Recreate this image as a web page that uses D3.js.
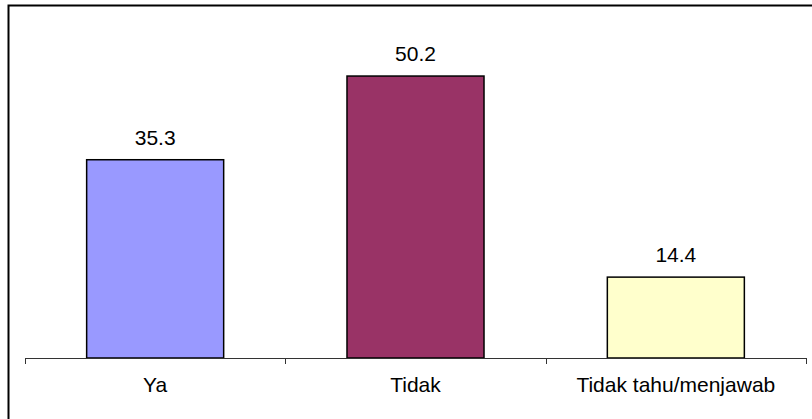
<!DOCTYPE html>
<html><head><meta charset="utf-8">
<script src="https://cdn.jsdelivr.net/npm/d3@7"></script>
<style>body{margin:0;background:#fff}svg{display:block}</style>
</head><body>
<svg id="c" width="812" height="419"></svg>
<script>
const categories = ["Ya", "Tidak", "Tidak tahu/menjawab"];
const values = [35.3, 50.2, 14.4];
const valueLabels = ["35.3", "50.2", "14.4"];
const colors = ["#9999ff", "#993366", "#ffffcc"];

const svg = d3.select("#c");
const font = "'Liberation Sans', Arial, sans-serif";
// outer border (right/bottom edges lie outside the picture)
svg.append("rect").attr("x", 8.5).attr("y", 5.5).attr("width", 900).attr("height", 500)
  .attr("fill", "none").attr("stroke", "#000").attr("stroke-width", 2);

const x = d3.scaleBand().domain(categories).range([25, 806]).paddingInner(0.4737).paddingOuter(0.2368);
const xb = d3.scaleBand().domain(categories).range([25, 806]);
const y = d3.scaleLinear().domain([0, 60]).range([358, 21]);

svg.selectAll("rect.bar").data(categories).join("rect").attr("class", "bar")
  .attr("x", d => x(d)).attr("width", x.bandwidth())
  .attr("y", (d, i) => y(values[i])).attr("height", (d, i) => y(0) - y(values[i]))
  .attr("fill", (d, i) => colors[i]).attr("stroke", "#000").attr("stroke-width", 1.5);

// axis line with tick marks at category boundaries
const ax = svg.append("g");
ax.append("line").attr("x1", 25).attr("x2", 806).attr("y1", 358.5).attr("y2", 358.5).attr("stroke", "#333").attr("stroke-width", 1);
const bounds = [25, ...categories.map(c => xb(c) + xb.bandwidth())];
ax.selectAll("line.t").data(bounds).join("line").attr("class", "t")
  .attr("x1", d => Math.round(d) + 0.5).attr("x2", d => Math.round(d) + 0.5)
  .attr("y1", 358).attr("y2", 364).attr("stroke", "#333");

svg.selectAll("text.cat").data(categories).join("text").attr("class", "cat")
  .attr("x", d => xb(d) + xb.bandwidth() / 2).attr("y", 392)
  .attr("text-anchor", "middle").attr("font-family", font).attr("font-size", 21).attr("fill", "#000")
  .text(d => d);

svg.selectAll("text.val").data(categories).join("text").attr("class", "val")
  .attr("x", d => x(d) + x.bandwidth() / 2).attr("y", (d, i) => y(values[i]) - 15)
  .attr("text-anchor", "middle").attr("font-family", font).attr("font-size", 21).attr("fill", "#000")
  .text((d, i) => valueLabels[i]);
</script>
</body></html>
